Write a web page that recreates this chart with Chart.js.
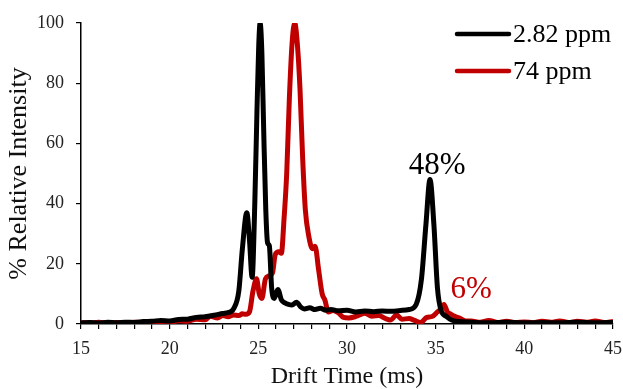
<!DOCTYPE html>
<html>
<head>
<meta charset="utf-8">
<script src="https://cdn.jsdelivr.net/npm/chart.js@4.4.1/dist/chart.umd.min.js"></script>
<style>
  html, body { margin: 0; padding: 0; background: #fff; }
  #wrap { width: 623px; height: 389px; position: relative; }
</style>
</head>
<body>
<div id="wrap"><canvas id="driftChart"></canvas></div>
<script>
// drift time (ms) and % relative intensity
const lowTimes = [15.0, 15.5, 16.0, 16.5, 17.0, 17.5, 18.0, 18.5, 19.0, 19.5, 20.0, 20.5, 21.0, 21.5, 22.0, 22.5, 23.0, 23.3, 23.6, 23.9, 24.1, 24.35, 24.5, 24.65, 24.8, 24.92, 25.02, 25.1, 25.2, 25.3, 25.42, 25.52, 25.62, 25.75, 25.9, 26.1, 26.3, 26.5, 26.7, 26.9, 27.15, 27.4, 27.6, 27.9, 28.2, 28.5, 28.8, 29.1, 29.5, 30.0, 30.5, 31.0, 31.5, 32.0, 32.5, 33.0, 33.5, 33.9, 34.2, 34.45, 34.68, 34.9, 35.1, 35.3, 35.6, 35.9, 36.3, 37.0, 38.0, 39.0, 40.0, 41.0, 42.0, 43.0, 44.0, 45.0];
const lowValues = [0.3, 0.5, 0.3, 0.6, 0.4, 0.6, 0.5, 0.8, 0.9, 1.2, 1.0, 1.5, 1.6, 2.2, 2.4, 2.9, 3.5, 3.8, 5, 11, 25, 37, 28, 15.5, 40, 70, 92, 100, 90, 65, 38, 27, 26, 12, 8.5, 11.5, 8, 7, 6.5, 6.3, 7.2, 5.6, 5.0, 5.4, 4.8, 5.2, 4.6, 4.8, 4.4, 4.6, 4.0, 4.3, 4.1, 4.3, 4.2, 4.5, 4.8, 6.5, 15, 33, 48, 33, 12, 4.6, 2.5, 1.3, 0.8, 0.6, 0.4, 0.6, 0.4, 0.5, 0.4, 0.6, 0.4, 0.5];

const highTimes = [15.0, 15.5, 16.0, 16.5, 17.0, 17.5, 18.0, 18.5, 19.0, 19.5, 20.0, 20.5, 21.0, 21.5, 22.0, 22.3, 22.7, 23.0, 23.3, 23.6, 23.9, 24.1, 24.3, 24.5, 24.7, 24.9, 25.05, 25.2, 25.4, 25.6, 25.8, 25.95, 26.15, 26.3, 26.45, 26.6, 26.75, 26.9, 27.05, 27.2, 27.35, 27.5, 27.65, 27.85, 28.05, 28.2, 28.4, 28.6, 28.75, 28.95, 29.2, 29.5, 29.8, 30.1, 30.5, 31.0, 31.4, 31.8, 32.1, 32.45, 32.8, 33.1, 33.5, 33.8, 34.15, 34.5, 34.8, 35.1, 35.3, 35.47, 35.66, 35.85, 36.1, 36.4, 36.7, 37.0, 37.5, 38.0, 38.5, 39.0, 39.5, 40.0, 40.5, 41.0, 41.5, 42.0, 42.5, 43.0, 43.5, 44.0, 44.5, 45.0];
const highValues = [0.5, 0.3, 0.6, 0.3, 0.5, 0.3, 0.6, 0.4, 0.6, 0.8, 0.5, 1.1, 0.9, 1.6, 1.4, 2.6, 2.0, 2.8, 2.4, 3.0, 2.8, 3.4, 3.2, 4.0, 11, 15, 10, 8.5, 15, 16, 17, 23, 24, 23.5, 35, 50, 75, 93, 100, 93, 78, 55, 38, 29, 25, 25.8, 18, 10, 8, 4, 4.5, 3.8, 2.2, 2.0, 2.5, 3.6, 2.6, 2.8, 2.0, 1.3, 3.0, 1.6, 1.8, 1.2, 0.5, 2.2, 2.5, 4, 5, 6.5, 4, 3.3, 2.5, 1.8, 1.0, 1.0, 0.6, 1.2, 0.5, 0.9, 0.5, 0.7, 0.4, 0.9, 0.6, 1.0, 0.5, 0.9, 0.6, 1.0, 0.5, 0.8];

const seriesLabels = ["2.82 ppm", "74 ppm"];
const noteText = ["48%", "6%"];
const noteX = [35.08, 37.0];
const noteY = [49.8, 8.7];

const BLACK = "#000000";
const RED = "#c00000";
const SERIF = "'Liberation Serif', 'Times New Roman', serif";

const toPoints = (xs, ys) => xs.map((x, i) => ({ x: x, y: ys[i] }));

// legend drawn as short thick lines in the top right corner
const lineLegend = {
  id: "lineLegend",
  afterDraw(chart) {
    const ctx = chart.ctx;
    ctx.save();
    ctx.font = "26px " + SERIF;
    ctx.textBaseline = "middle";
    ctx.textAlign = "left";
    chart.data.datasets.forEach((ds, i) => {
      const y = 34 + i * 37;
      ctx.strokeStyle = ds.borderColor;
      ctx.lineWidth = 4.5;
      ctx.lineCap = "round";
      ctx.beginPath();
      ctx.moveTo(457, y);
      ctx.lineTo(509, y);
      ctx.stroke();
      ctx.fillStyle = "#000";
      ctx.fillText(ds.label, 513, y + 1);
    });
    ctx.restore();
  }
};

// percent labels over the small peaks
const peakNotes = {
  id: "peakNotes",
  afterDatasetsDraw(chart) {
    const ctx = chart.ctx;
    const xs = chart.scales.x, ys = chart.scales.y;
    ctx.save();
    ctx.font = "31px " + SERIF;
    ctx.textAlign = "center";
    ctx.textBaseline = "alphabetic";
    noteText.forEach((t, i) => {
      ctx.fillStyle = i === 0 ? BLACK : RED;
      ctx.fillText(t, xs.getPixelForValue(noteX[i]), ys.getPixelForValue(noteY[i]));
    });
    ctx.restore();
  }
};

const ctx = document.getElementById("driftChart").getContext("2d");

new Chart(ctx, {
  type: "line",
  data: {
    datasets: [
      {
        label: seriesLabels[0],
        data: toPoints(lowTimes, lowValues),
        borderColor: BLACK,
        borderWidth: 5,
        pointRadius: 0,
        cubicInterpolationMode: "monotone",
        fill: false
      },
      {
        label: seriesLabels[1],
        data: toPoints(highTimes, highValues),
        borderColor: RED,
        borderWidth: 5,
        pointRadius: 0,
        cubicInterpolationMode: "monotone",
        fill: false
      }
    ]
  },
  options: {
    responsive: true,
    maintainAspectRatio: false,
    animation: false,
    layout: { padding: { left: 0, right: 10, top: 23, bottom: 0 } },
    plugins: {
      legend: { display: false },
      tooltip: { enabled: false }
    },
    scales: {
      x: {
        type: "linear",
        min: 15,
        max: 45,
        afterFit: (s) => {
          s.height = 65;
          s.paddingLeft = 0;
          s.paddingRight = 0;
        },
        border: { color: BLACK, width: 1.5 },
        grid: { drawOnChartArea: false, tickLength: 5, color: BLACK, lineWidth: 1.2 },
        ticks: {
          stepSize: 1,
          autoSkip: false,
          maxRotation: 0,
          padding: 9,
          color: "#222",
          font: { family: SERIF, size: 18 },
          callback: (v) => (v % 5 === 0 ? v : "")
        },
        title: {
          display: true,
          text: "Drift Time (ms)",
          color: "#111",
          font: { family: SERIF, size: 24, lineHeight: 1.0 },
          padding: { top: 0, bottom: 0 }
        }
      },
      y: {
        min: 0,
        max: 100,
        afterFit: (s) => { s.width = 81; },
        border: { color: BLACK, width: 1.5 },
        grid: { drawOnChartArea: false, tickLength: 5, color: BLACK, lineWidth: 1.2 },
        ticks: {
          stepSize: 20,
          padding: 12,
          color: "#222",
          font: { family: SERIF, size: 18 }
        },
        title: {
          display: true,
          text: "% Relative Intensity",
          color: "#111",
          font: { family: SERIF, size: 26, lineHeight: 1.2 },
          padding: { top: 4, bottom: 0 }
        }
      }
    }
  },
  plugins: [peakNotes, lineLegend]
});
</script>
</body>
</html>
